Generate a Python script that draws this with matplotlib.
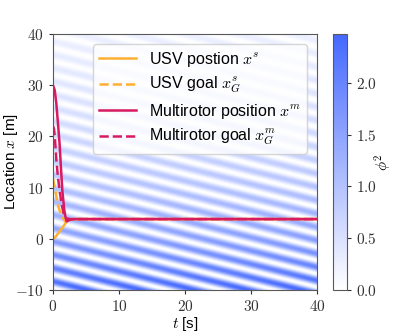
import numpy as np
import matplotlib
matplotlib.use("Agg")
import matplotlib.pyplot as plt
from matplotlib.colors import LinearSegmentedColormap
from matplotlib.ticker import FuncFormatter

plt.rcParams['font.family'] = ['Liberation Sans', 'DejaVu Sans']
plt.rcParams['mathtext.fontset'] = 'cm'
plt.rcParams['font.size'] = 10.5

# trajectories
t_usv = [0, 0.4, 0.8, 1.2, 1.56, 2.07, 2.5, 3.0, 40]
x_usv = [0, 0.4, 1.1, 1.8, 2.4, 3.4, 3.8, 3.85, 3.85]

t_usv_goal = [0, 0.2, 0.4, 0.8, 1.3, 1.8, 2.3, 3.0, 40]
x_usv_goal = [11.8, 10.4, 9.0, 6.3, 4.5, 3.5, 3.8, 3.85, 3.85]

t_mr = [0, 0.25, 0.5, 0.75, 1.0, 1.2, 1.41, 1.71, 1.9, 2.07, 2.4, 2.8, 3.3, 40]
x_mr = [30, 29.1, 26.5, 22.6, 18.5, 14.0, 9.5, 5.6, 4.2, 3.4, 3.6, 3.8, 3.85, 3.85]

t_mr_goal = [0, 0.15, 0.3, 0.5, 0.75, 1.0, 1.3, 1.6, 2.0, 2.5, 40]
x_mr_goal = [22, 21.5, 19.5, 15.5, 12, 9.5, 6.8, 5.0, 4.0, 3.85, 3.85]

# background wave field phi^2 (parameters estimated from the stripes)
stripe_period = 2.6    # m
drift_speed = 0.32     # m/s
zero_offset = 0.74     # m
peak_value = 2.47
decay_len = 22.0       # m

tt = np.linspace(0, 40, 400)
xx = np.linspace(-10, 40, 500)
T, X = np.meshgrid(tt, xx)
phi2 = peak_value * np.exp(-(X + 10) / decay_len) * \
    np.sin(np.pi / stripe_period * (X - zero_offset + drift_speed * T)) ** 2

cmap = LinearSegmentedColormap.from_list('wb', ['#ffffff', '#4468ff'])

fig = plt.figure(figsize=(4.19, 3.34), dpi=100)
ax = fig.add_axes([53 / 419, 44 / 334, 264 / 419, 256 / 334])
cax = fig.add_axes([333 / 419, 44 / 334, 14 / 419, 256 / 334])

im = ax.imshow(phi2, extent=[0, 40, -10, 40], origin='lower', aspect='auto',
               cmap=cmap, vmin=0, vmax=peak_value, interpolation='bilinear')

orange = '#FFB030'
magenta = '#D81B60'
ax.plot(t_usv, x_usv, color=orange, lw=1.8, label=r'USV postion $x^s$')
ax.plot(t_usv_goal, x_usv_goal, color=orange, lw=1.8, ls='--', label=r'USV goal $x^s_G$')
ax.plot(t_mr, x_mr, color=magenta, lw=1.8, label=r'Multirotor position $x^m$')
ax.plot(t_mr_goal, x_mr_goal, color=magenta, lw=1.8, ls='--', label=r'Multirotor goal $x^m_G$')

ax.set_xlim(0, 40)
ax.set_ylim(-10, 40)
ax.set_xticks([0, 10, 20, 30, 40])
ax.set_yticks([-10, 0, 10, 20, 30, 40])
math_fmt = FuncFormatter(lambda v, p: r'$%d$' % v)
ax.xaxis.set_major_formatter(math_fmt)
ax.yaxis.set_major_formatter(math_fmt)
ax.tick_params(colors='0.2', length=3, labelsize=11)
ax.set_xlabel(r'$t$ [s]', labelpad=1, fontsize=11)
ax.set_ylabel(r'Location $x$ [m]', fontsize=11)
ax.yaxis.set_label_coords(-0.125, 0.5)
for s in ax.spines.values():
    s.set_color('0.35')

leg = ax.legend(loc='upper right', handlelength=2.3, borderaxespad=0.6,
                fontsize=11.5, labelspacing=0.4)

cb = fig.colorbar(im, cax=cax)
cb.set_ticks([0, 0.5, 1.0, 1.5, 2.0])
cb.ax.yaxis.set_major_formatter(FuncFormatter(lambda v, p: r'$%.1f$' % v))
cb.ax.tick_params(colors='0.2', length=3, labelsize=11)
cb.set_label(r'$\phi^2$', labelpad=-3, fontsize=11)
cb.outline.set_edgecolor('0.35')

fig.savefig('out.png', dpi=100)
